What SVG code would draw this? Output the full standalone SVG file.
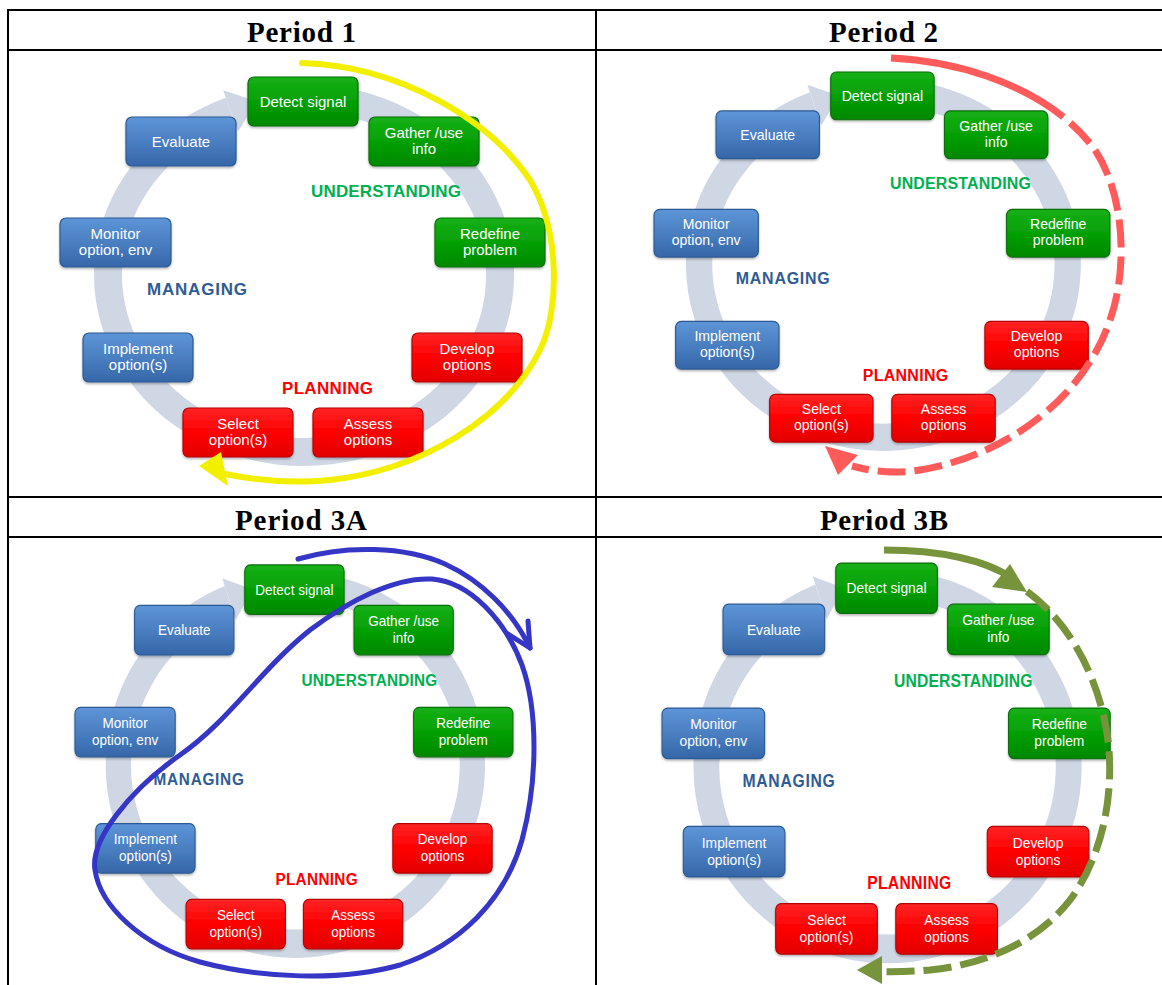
<svg xmlns="http://www.w3.org/2000/svg" xmlns:xlink="http://www.w3.org/1999/xlink" width="1162" height="985" viewBox="0 0 1162 985">
<style>
.grid{stroke:#000;stroke-width:2;fill:none}
.hdr{font-family:"Liberation Serif","Times New Roman",serif;font-weight:bold;font-size:29px;fill:#000;text-anchor:middle}
.box{stroke-width:1.2;filter:url(#sh)}
.nb{fill:url(#gBlue);stroke:#2C5A93}
.ng{fill:url(#gGreen);stroke:#0A6E0A}
.nr{fill:url(#gRed);stroke:#B80000}
.nt{font-family:"Liberation Sans",Arial,sans-serif;font-size:15px;fill:#fff;text-anchor:middle}
.lbl{font-family:"Liberation Sans",Arial,sans-serif;font-size:17px;font-weight:bold;text-anchor:middle}
.und{fill:#00B050}.man{fill:#2F5B96}.pla{fill:#FF0000}
.ann{fill:none;stroke-linecap:round;stroke-linejoin:round}
</style>
<defs>
<linearGradient id="gBlue" x1="0" y1="0" x2="0" y2="1"><stop offset="0" stop-color="#5D95D8"/><stop offset="0.5" stop-color="#4A7FC1"/><stop offset="1" stop-color="#3566A8"/></linearGradient>
<linearGradient id="gGreen" x1="0" y1="0" x2="0" y2="1"><stop offset="0" stop-color="#16B016"/><stop offset="0.5" stop-color="#05A005"/><stop offset="1" stop-color="#008800"/></linearGradient>
<linearGradient id="gRed" x1="0" y1="0" x2="0" y2="1"><stop offset="0" stop-color="#FF2424"/><stop offset="0.5" stop-color="#FF0000"/><stop offset="1" stop-color="#E20000"/></linearGradient>
<filter id="sh" x="-10%" y="-10%" width="120%" height="130%"><feDropShadow dx="0" dy="1.5" stdDeviation="1" flood-color="#000" flood-opacity="0.3"/></filter>
<g id="cycle">
<path d="M327.9,99.3 A196,177 0 1 1 230.6,110.9" fill="none" stroke="#CFD7E5" stroke-width="28"/>
<polygon points="223.1,90.2 256.9,101.3 238.1,131.6" fill="#CFD7E5"/>
</g>
</defs>
<rect x="0" y="0" width="1162" height="985" fill="#fff"/>
<g id="table">
<path class="grid" d="M7,10 H1162 M7,50 H1162 M7,497 H1162 M7,537 H1162 M8,9 V985 M596,9 V985"/>
<text class="hdr" x="301.5" y="42" textLength="109">Period 1</text>
<text class="hdr" x="883.5" y="42" textLength="109">Period 2</text>
<text class="hdr" x="301" y="530" textLength="132">Period 3A</text>
<text class="hdr" x="884" y="530" textLength="128">Period 3B</text>
</g>
<g id="connectors-cycle">
<use xlink:href="#cycle" href="#cycle"/>
<use xlink:href="#cycle" href="#cycle" transform="matrix(0.94 0 0 0.974 597.6 -3)"/>
<use xlink:href="#cycle" href="#cycle" transform="matrix(0.903 0 0 1.01 20.8 487.2)"/>
<use xlink:href="#cycle" href="#cycle" transform="matrix(0.924 0 0 1.029 606.6 483.8)"/>
</g>
<g id="panel-1">
<g id="p1-detect"><rect class="box ng" x="248" y="77" width="110" height="49" rx="6"/><text class="nt" x="303" y="106.5">Detect signal</text></g>
<g id="p1-gather"><rect class="box ng" x="369" y="117" width="110" height="49" rx="6"/><text class="nt" x="424" y="137.5">Gather /use</text><text class="nt" x="424" y="154">info</text></g>
<g id="p1-redefine"><rect class="box ng" x="435" y="218" width="110" height="49" rx="6"/><text class="nt" x="490" y="238.5">Redefine</text><text class="nt" x="490" y="255">problem</text></g>
<g id="p1-develop"><rect class="box nr" x="412" y="333" width="110" height="49" rx="6"/><text class="nt" x="467" y="353.5">Develop</text><text class="nt" x="467" y="370">options</text></g>
<g id="p1-assess"><rect class="box nr" x="313" y="408" width="110" height="49" rx="6"/><text class="nt" x="368" y="428.5">Assess</text><text class="nt" x="368" y="445">options</text></g>
<g id="p1-select"><rect class="box nr" x="183" y="408" width="110" height="49" rx="6"/><text class="nt" x="238" y="428.5">Select</text><text class="nt" x="238" y="445">option(s)</text></g>
<g id="p1-implement"><rect class="box nb" x="83" y="333" width="110" height="49" rx="6"/><text class="nt" x="138" y="353.5">Implement</text><text class="nt" x="138" y="370">option(s)</text></g>
<g id="p1-monitor"><rect class="box nb" x="60" y="218" width="111" height="49" rx="6"/><text class="nt" x="115.5" y="238.5">Monitor</text><text class="nt" x="115.5" y="255">option, env</text></g>
<g id="p1-evaluate"><rect class="box nb" x="126" y="117" width="110" height="49" rx="6"/><text class="nt" x="181" y="146.5">Evaluate</text></g>
<text class="lbl und" x="386" y="197" textLength="150">UNDERSTANDING</text>
<text class="lbl man" x="197" y="295" textLength="100">MANAGING</text>
<text class="lbl pla" x="327.5" y="394" textLength="91">PLANNING</text>
</g>
<g id="panel-2" transform="matrix(0.94 0 0 0.974 597.6 -3)">
<g id="p2-detect"><rect class="box ng" x="248" y="77" width="110" height="49" rx="6"/><text class="nt" x="303" y="106.5">Detect signal</text></g>
<g id="p2-gather"><rect class="box ng" x="369" y="117" width="110" height="49" rx="6"/><text class="nt" x="424" y="137.5">Gather /use</text><text class="nt" x="424" y="154">info</text></g>
<g id="p2-redefine"><rect class="box ng" x="435" y="218" width="110" height="49" rx="6"/><text class="nt" x="490" y="238.5">Redefine</text><text class="nt" x="490" y="255">problem</text></g>
<g id="p2-develop"><rect class="box nr" x="412" y="333" width="110" height="49" rx="6"/><text class="nt" x="467" y="353.5">Develop</text><text class="nt" x="467" y="370">options</text></g>
<g id="p2-assess"><rect class="box nr" x="313" y="408" width="110" height="49" rx="6"/><text class="nt" x="368" y="428.5">Assess</text><text class="nt" x="368" y="445">options</text></g>
<g id="p2-select"><rect class="box nr" x="183" y="408" width="110" height="49" rx="6"/><text class="nt" x="238" y="428.5">Select</text><text class="nt" x="238" y="445">option(s)</text></g>
<g id="p2-implement"><rect class="box nb" x="83" y="333" width="110" height="49" rx="6"/><text class="nt" x="138" y="353.5">Implement</text><text class="nt" x="138" y="370">option(s)</text></g>
<g id="p2-monitor"><rect class="box nb" x="60" y="218" width="111" height="49" rx="6"/><text class="nt" x="115.5" y="238.5">Monitor</text><text class="nt" x="115.5" y="255">option, env</text></g>
<g id="p2-evaluate"><rect class="box nb" x="126" y="117" width="110" height="49" rx="6"/><text class="nt" x="181" y="146.5">Evaluate</text></g>
<text class="lbl und" x="386" y="197" textLength="150">UNDERSTANDING</text>
<text class="lbl man" x="197" y="295" textLength="100">MANAGING</text>
<text class="lbl pla" x="327.5" y="394" textLength="91">PLANNING</text>
</g>
<g id="panel-3a" transform="matrix(0.903 0 0 1.01 20.8 487.2)">
<g id="p3a-detect"><rect class="box ng" x="248" y="77" width="110" height="49" rx="6"/><text class="nt" x="303" y="106.5">Detect signal</text></g>
<g id="p3a-gather"><rect class="box ng" x="369" y="117" width="110" height="49" rx="6"/><text class="nt" x="424" y="137.5">Gather /use</text><text class="nt" x="424" y="154">info</text></g>
<g id="p3a-redefine"><rect class="box ng" x="435" y="218" width="110" height="49" rx="6"/><text class="nt" x="490" y="238.5">Redefine</text><text class="nt" x="490" y="255">problem</text></g>
<g id="p3a-develop"><rect class="box nr" x="412" y="333" width="110" height="49" rx="6"/><text class="nt" x="467" y="353.5">Develop</text><text class="nt" x="467" y="370">options</text></g>
<g id="p3a-assess"><rect class="box nr" x="313" y="408" width="110" height="49" rx="6"/><text class="nt" x="368" y="428.5">Assess</text><text class="nt" x="368" y="445">options</text></g>
<g id="p3a-select"><rect class="box nr" x="183" y="408" width="110" height="49" rx="6"/><text class="nt" x="238" y="428.5">Select</text><text class="nt" x="238" y="445">option(s)</text></g>
<g id="p3a-implement"><rect class="box nb" x="83" y="333" width="110" height="49" rx="6"/><text class="nt" x="138" y="353.5">Implement</text><text class="nt" x="138" y="370">option(s)</text></g>
<g id="p3a-monitor"><rect class="box nb" x="60" y="218" width="111" height="49" rx="6"/><text class="nt" x="115.5" y="238.5">Monitor</text><text class="nt" x="115.5" y="255">option, env</text></g>
<g id="p3a-evaluate"><rect class="box nb" x="126" y="117" width="110" height="49" rx="6"/><text class="nt" x="181" y="146.5">Evaluate</text></g>
<text class="lbl und" x="386" y="197" textLength="150">UNDERSTANDING</text>
<text class="lbl man" x="197" y="295" textLength="100">MANAGING</text>
<text class="lbl pla" x="327.5" y="394" textLength="91">PLANNING</text>
</g>
<g id="panel-3b" transform="matrix(0.924 0 0 1.029 606.6 483.8)">
<g id="p3b-detect"><rect class="box ng" x="248" y="77" width="110" height="49" rx="6"/><text class="nt" x="303" y="106.5">Detect signal</text></g>
<g id="p3b-gather"><rect class="box ng" x="369" y="117" width="110" height="49" rx="6"/><text class="nt" x="424" y="137.5">Gather /use</text><text class="nt" x="424" y="154">info</text></g>
<g id="p3b-redefine"><rect class="box ng" x="435" y="218" width="110" height="49" rx="6"/><text class="nt" x="490" y="238.5">Redefine</text><text class="nt" x="490" y="255">problem</text></g>
<g id="p3b-develop"><rect class="box nr" x="412" y="333" width="110" height="49" rx="6"/><text class="nt" x="467" y="353.5">Develop</text><text class="nt" x="467" y="370">options</text></g>
<g id="p3b-assess"><rect class="box nr" x="313" y="408" width="110" height="49" rx="6"/><text class="nt" x="368" y="428.5">Assess</text><text class="nt" x="368" y="445">options</text></g>
<g id="p3b-select"><rect class="box nr" x="183" y="408" width="110" height="49" rx="6"/><text class="nt" x="238" y="428.5">Select</text><text class="nt" x="238" y="445">option(s)</text></g>
<g id="p3b-implement"><rect class="box nb" x="83" y="333" width="110" height="49" rx="6"/><text class="nt" x="138" y="353.5">Implement</text><text class="nt" x="138" y="370">option(s)</text></g>
<g id="p3b-monitor"><rect class="box nb" x="60" y="218" width="111" height="49" rx="6"/><text class="nt" x="115.5" y="238.5">Monitor</text><text class="nt" x="115.5" y="255">option, env</text></g>
<g id="p3b-evaluate"><rect class="box nb" x="126" y="117" width="110" height="49" rx="6"/><text class="nt" x="181" y="146.5">Evaluate</text></g>
<text class="lbl und" x="386" y="197" textLength="150">UNDERSTANDING</text>
<text class="lbl man" x="197" y="295" textLength="100">MANAGING</text>
<text class="lbl pla" x="327.5" y="394" textLength="91">PLANNING</text>
</g>
<g id="connectors-annotations">
<g id="path-period-1">
<path class="ann" stroke="#F3EF00" stroke-width="6" d="M302,63 C400,66 490,120 530,180 C560,230 560,310 540,350 C505,420 420,470 330,480 C290,484 255,480 225,474"/>
<polygon points="199,466 221,452 228,486" fill="#F3EF00"/>
</g>
<g id="path-period-2">
<path fill="none" stroke="#FF5B5B" stroke-width="7" stroke-dasharray="185 9 28 9 28 9 28 9 28 9 28 9 28 9 28 9 28 9 28 9 28 9 28 9 28 9 28 9 28 9 28 9 28 9 28 9 28 9 28 9 28 9" d="M891,58 C980,62 1060,100 1095,150 C1125,195 1128,270 1110,320 C1085,395 1010,455 920,470 C895,474 875,472 852,466"/>
<polygon points="825,446 858,455 838,475" fill="#FF5B5B"/>
</g>
<g id="path-period-3a">
<path class="ann" stroke="#3535C6" stroke-width="5" d="M298,559 C345,545 405,546 445,564 C480,580 512,610 530,648"/>
<path class="ann" stroke="#3535C6" stroke-width="5" d="M508,634 L530,648 L528,621"/>
<path class="ann" stroke="#3535C6" stroke-width="5" d="M432,579 C470,582 505,620 522,665 C538,710 538,780 522,840 C505,900 460,945 400,965 C340,982 260,978 200,962 C140,945 100,905 95,870 C90,840 130,790 180,755 C230,720 260,670 310,630 C350,600 395,577 432,579 Z"/>
</g>
<g id="path-period-3b">
<path fill="none" stroke="#77933C" stroke-width="7" d="M884,550 C940,550 985,560 1012,578"/>
<polygon points="1027,592 1010,564 992,587" fill="#77933C"/>
<path fill="none" stroke="#77933C" stroke-width="7" stroke-dasharray="28 9" stroke-dashoffset="-6" d="M1022,588 C1070,620 1100,680 1108,740 C1115,800 1100,860 1070,900 C1035,945 980,965 930,970 C905,972 885,972 870,971"/>
<polygon points="857,970 882,956 882,984" fill="#77933C"/>
</g>
</g>
</svg>
